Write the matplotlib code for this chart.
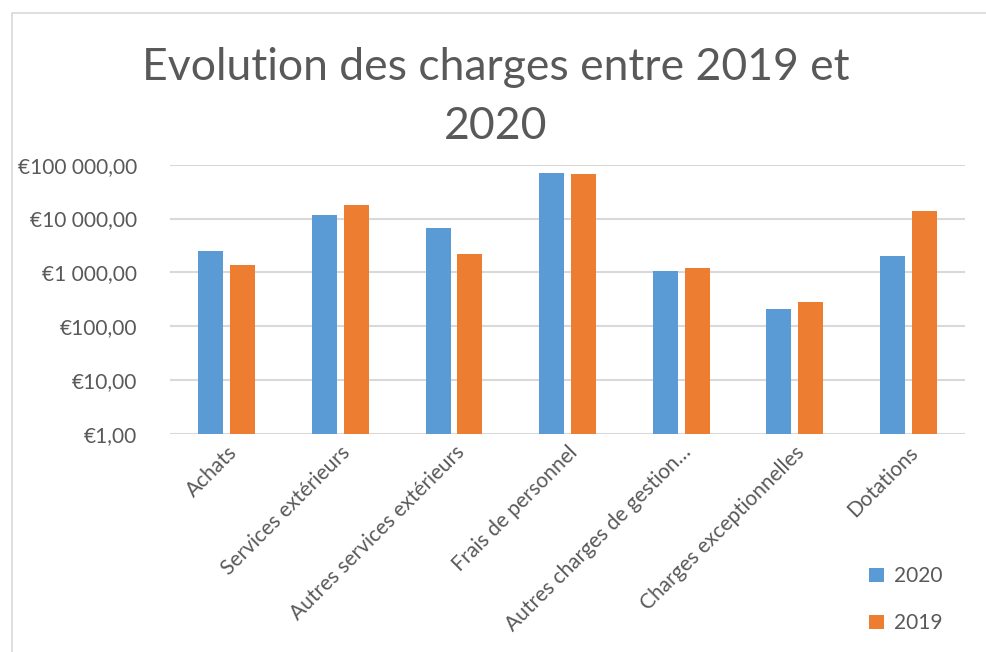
import matplotlib.pyplot as plt
import matplotlib.ticker as mticker
from matplotlib.patches import Rectangle
import numpy as np

# charges by category
categories = ['Achats', 'Services extérieurs', 'Autres services extérieurs',
              'Frais de personnel', 'Autres charges de gestion…',
              'Charges exceptionnelles', 'Dotations']
charges_2020 = [2520, 11860, 6810, 70200, 1060, 213, 2040]
charges_2019 = [1370, 18150, 2220, 67300, 1186, 287, 13700]

plt.rcParams['font.family'] = ['Lato', 'DejaVu Sans']

fig = plt.figure(figsize=(9.86, 6.52), dpi=100)
ax = fig.add_axes([0.1725, 0.3344, 0.8063, 0.4130])

x = np.arange(len(categories))
w = 0.22
off = 0.14
ax.bar(x - off, charges_2020, w, color='#5b9bd5', label='2020', zorder=3)
ax.bar(x + off, charges_2019, w, color='#ed7d31', label='2019', zorder=3)

ax.set_yscale('log')
ax.set_ylim(1, 100000)
ax.set_xlim(-0.5, len(categories) - 0.5)


def euro(v, pos):
    s = f'{v:,.2f}'.replace(',', ' ').replace('.', ',')
    return '€' + s


ax.yaxis.set_major_locator(mticker.LogLocator(base=10, numticks=10))
ax.yaxis.set_minor_locator(mticker.NullLocator())
ax.yaxis.set_major_formatter(mticker.FuncFormatter(euro))
ax.grid(axis='y', color='#d9d9d9', linewidth=1.5, zorder=0)
for s in ax.spines.values():
    s.set_visible(False)
ax.tick_params(axis='both', length=0, labelsize=15, colors='#595959', pad=24)
ax.tick_params(axis='x', pad=6)
ax.set_xticks(x)
ax.set_xticklabels(categories, rotation=45, ha='right', rotation_mode='anchor')

fig.text(0.503, 0.896, 'Evolution des charges entre 2019 et', ha='center',
         va='center', fontsize=32, color='#595959')
fig.text(0.503, 0.806, '2020', ha='center', va='center', fontsize=32,
         color='#595959')

fig.legend(loc='lower right', bbox_to_anchor=(0.975, 0.0), frameon=False,
           fontsize=15, labelcolor='#595959', handlelength=0.7,
           handleheight=0.7, labelspacing=1.3, handletextpad=0.5)

fig.patches.append(Rectangle((0.012, -0.01), 1.5, 0.99, transform=fig.transFigure,
                             fill=False, edgecolor='#d9d9d9', linewidth=1.2))

fig.savefig('out.png', dpi=100)
